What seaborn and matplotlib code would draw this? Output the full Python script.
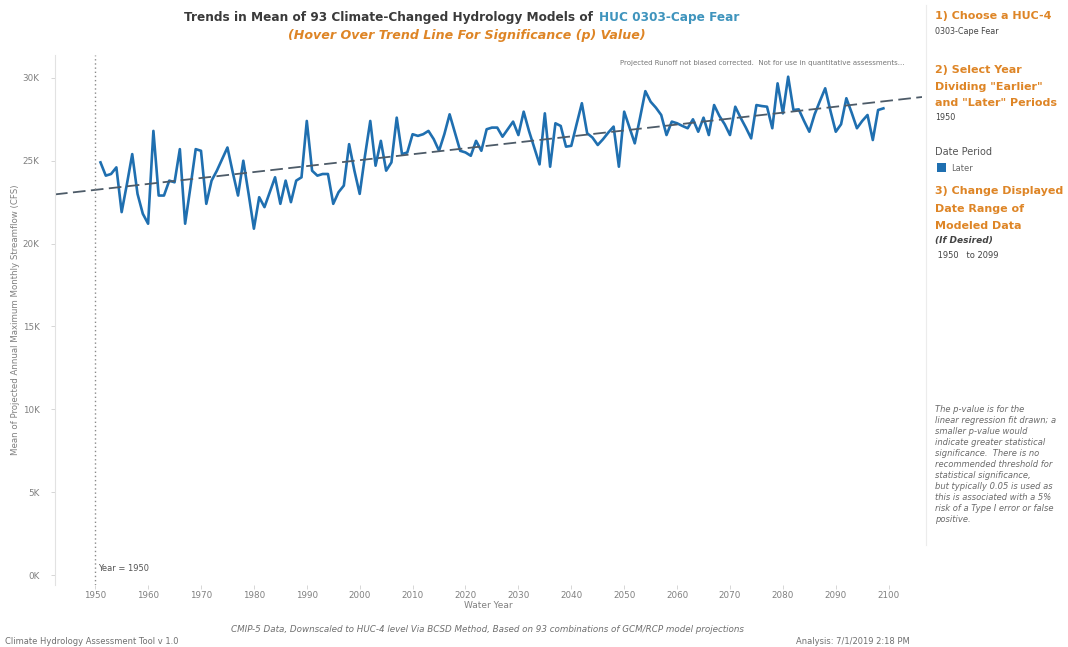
import numpy as np
import pandas as pd
import matplotlib
matplotlib.use("Agg")
import matplotlib.pyplot as plt
import seaborn as sns
from matplotlib.ticker import FuncFormatter, FixedLocator
from matplotlib.patches import Rectangle

# ---------------- data ----------------
years = list(range(1951, 2100))
flow_k = [
    24.9, 24.1, 24.2, 24.6, 21.9, 23.6, 25.4, 23.0, 21.8, 21.2,   # 1951-1960
    26.8, 22.9, 22.9, 23.8, 23.7, 25.7, 21.2, 23.4, 25.7, 25.6,   # 1961-1970
    22.4, 23.8, 24.4, 25.1, 25.8, 24.3, 22.9, 25.0, 23.0, 20.9,   # 1971-1980
    22.8, 22.2, 23.1, 24.0, 22.4, 23.8, 22.5, 23.8, 24.0, 27.4,   # 1981-1990
    24.4, 24.1, 24.2, 24.2, 22.4, 23.1, 23.5, 26.0, 24.4, 23.0,   # 1991-2000
    25.3, 27.4, 24.7, 26.2, 24.4, 24.9, 27.6, 25.4, 25.5, 26.6,   # 2001-2010
    26.5, 26.6, 26.8, 26.3, 25.6, 26.6, 27.8, 26.7, 25.6, 25.5,   # 2011-2020
    25.3, 26.2, 25.6, 26.9, 27.0, 27.0, 26.45, 26.9, 27.36, 26.55,  # 2021-2030
    27.96, 26.8, 25.8, 24.78, 27.86, 24.64, 27.26, 27.1, 25.85, 25.9,  # 2031-2040
    27.2, 28.47, 26.66, 26.4, 25.95, 26.3, 26.7, 27.06, 24.64, 27.96,  # 2041-2050
    27.0, 26.05, 27.6, 29.2, 28.56, 28.2, 27.76, 26.55, 27.36, 27.26,  # 2051-2060
    27.1, 26.96, 27.5, 26.75, 27.6, 26.55, 28.36, 27.7, 27.2, 26.55,   # 2061-2070
    28.26, 27.6, 27.0, 26.35, 28.36, 28.3, 28.26, 26.96, 29.67, 27.86,  # 2071-2080
    30.07, 28.06, 28.1, 27.4, 26.75, 27.8, 28.6, 29.37, 28.0, 26.75,   # 2081-2090
    27.2, 28.77, 27.9, 26.96, 27.4, 27.76, 26.25, 28.06, 28.16,        # 2091-2099
]
x_ticks = list(range(1950, 2101, 10))
y_ticks_k = [0, 5, 10, 15, 20, 25, 30]
divide_year = 1950

df = pd.DataFrame({"Water Year": years, "Flow": [v * 1000 for v in flow_k]})

# ---------------- figure ----------------
W, H = 1068, 647
fig = plt.figure(figsize=(W / 100, H / 100), dpi=100)
fig.patch.set_facecolor("white")

def fx(px):
    return px / W

def fy(py):
    return 1 - py / H

ax = fig.add_axes([fx(55), fy(585), fx(922) - fx(55), fy(55) - fy(585)])
ax.set_facecolor("white")

ax.set_xlim(1942.4, 2106.3)
ax.set_ylim(-600, 31380)

LINE_BLUE = "#1f6fb0"
ORANGE = "#de8526"

sns.lineplot(data=df, x="Water Year", y="Flow", ax=ax, color=LINE_BLUE,
             linewidth=1.9, solid_joinstyle="round")
sns.regplot(data=df, x="Water Year", y="Flow", ax=ax, scatter=False, ci=None,
            truncate=False,
            line_kws=dict(color="#4d5b68", linewidth=1.3, linestyle=(0, (7, 3))))

ax.axvline(divide_year, color="#8a8a8a", linewidth=1.0, linestyle=(0, (1, 2)))
ax.text(divide_year + 0.6, 120, "Year = 1950", fontsize=6, color="#555555",
        ha="left", va="bottom")

ax.yaxis.set_major_locator(FixedLocator([v * 1000 for v in y_ticks_k]))
ax.yaxis.set_major_formatter(FuncFormatter(lambda v, p: f"{int(round(v / 1000))}K"))
ax.xaxis.set_major_locator(FixedLocator(x_ticks))
ax.tick_params(axis="both", labelsize=6.3, colors="#d0d0d0", labelcolor="#808080",
               length=3, width=0.6)
ax.tick_params(axis="y", pad=8)
ax.tick_params(axis="x", pad=1)
ax.set_xlabel("Water Year", fontsize=6.5, color="#808080", labelpad=1)
ax.set_ylabel("Mean of Projected Annual Maximum Monthly Streamflow (CFS)",
              fontsize=6.2, color="#808080", labelpad=2)
for s in ["top", "right", "bottom"]:
    ax.spines[s].set_visible(False)
ax.spines["left"].set_color("#e2e2e2")
ax.spines["left"].set_linewidth(0.8)
ax.grid(False)

ax.text(0.98, 0.99, "Projected Runoff not biased corrected.  Not for use in quantitative assessments...",
        transform=ax.transAxes, fontsize=5, color="#777777", ha="right", va="top")

# ---------------- title ----------------
fig.text(fx(597), fy(17), "Trends in Mean of 93 Climate-Changed Hydrology Models of ",
         fontsize=8.7, fontweight="bold", color="#3a3a3a", ha="right", va="center")
fig.text(fx(599), fy(17), "HUC 0303-Cape Fear", fontsize=8.7, fontweight="bold",
         color="#3f94bd", ha="left", va="center")
fig.text(fx(467), fy(36), "(Hover Over Trend Line For Significance (p) Value)",
         fontsize=9.1, fontweight="bold", style="italic", color=ORANGE,
         ha="center", va="center")

# ---------------- footer ----------------
fig.text(fx(487), fy(630),
         "CMIP-5 Data, Downscaled to HUC-4 level Via BCSD Method, Based on 93 combinations of GCM/RCP model projections",
         fontsize=6.3, style="italic", color="#707070", ha="center", va="center")
fig.text(fx(5), fy(641), "Climate Hydrology Assessment Tool v 1.0", fontsize=6,
         color="#707070", ha="left", va="center")
fig.text(fx(910), fy(641), "Analysis: 7/1/2019 2:18 PM", fontsize=6,
         color="#707070", ha="right", va="center")

# ---------------- right panel ----------------
fig.add_artist(plt.Line2D([fx(926), fx(926)], [fy(5), fy(545)], transform=fig.transFigure,
                          color="#ececec", linewidth=0.8))
PX = fx(935)
def ptxt(py, s, **kw):
    fig.text(PX, fy(py), s, ha="left", va="center", **kw)

hdr = dict(fontsize=8.0, fontweight="bold", color=ORANGE)
ptxt(16, "1) Choose a HUC-4", **hdr)
ptxt(32, "0303-Cape Fear", fontsize=5.8, color="#444444")
ptxt(70, "2) Select Year", **hdr)
ptxt(87, "Dividing \"Earlier\"", **hdr)
ptxt(103, "and \"Later\" Periods", **hdr)
ptxt(118, "1950", fontsize=5.8, color="#444444")
ptxt(152, "Date Period", fontsize=7, color="#555555")
fig.add_artist(Rectangle((fx(937), fy(172)), fx(9), fy(163) - fy(172),
                         transform=fig.transFigure, facecolor=LINE_BLUE, edgecolor="none"))
fig.text(fx(951), fy(168), "Later", fontsize=6, color="#666666", ha="left", va="center")
ptxt(191, "3) Change Displayed", **hdr)
ptxt(209, "Date Range of", **hdr)
ptxt(226, "Modeled Data", **hdr)
ptxt(241, "(If Desired)", fontsize=6.5, style="italic", fontweight="bold", color="#444444")
ptxt(255, " 1950   to 2099", fontsize=6, color="#444444")

pval_lines = [
    "The p-value is for the",
    "linear regression fit drawn; a",
    "smaller p-value would",
    "indicate greater statistical",
    "significance.  There is no",
    "recommended threshold for",
    "statistical significance,",
    "but typically 0.05 is used as",
    "this is associated with a 5%",
    "risk of a Type I error or false",
    "positive.",
]
for i, line in enumerate(pval_lines):
    ptxt(410 + i * 10.9, line, fontsize=6, style="italic", color="#6a6a6a")

fig.savefig("out.png", dpi=100, facecolor="white")
